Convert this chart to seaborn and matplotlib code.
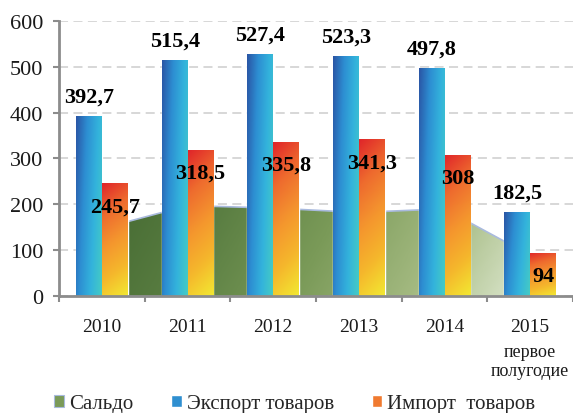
import numpy as np
import pandas as pd
import matplotlib
matplotlib.use("Agg")
import matplotlib.pyplot as plt
import seaborn as sns
from matplotlib.colors import LinearSegmentedColormap
from matplotlib.patches import Patch

# Données (млрд долл.)
years = ["2010", "2011", "2012", "2013", "2014", "2015"]
export_vals = [392.7, 515.4, 527.4, 523.3, 497.8, 182.5]
import_vals = [245.7, 318.5, 335.8, 341.3, 308.0, 94.0]
saldo_vals = [147.0, 196.9, 191.6, 182.0, 189.8, 88.5]
series_names = ["Сальдо", "Экспорт товаров", "Импорт  товаров"]
sub_label_2015 = "первое\nполугодие"

df = pd.DataFrame({
    "year": years * 2,
    "kind": [series_names[1]] * len(years) + [series_names[2]] * len(years),
    "value": export_vals + import_vals,
})

cmap_blue = LinearSegmentedColormap.from_list("b", ["#2a55a5", "#2d8ed2", "#33b3dc", "#45cbc4"])
cmap_orange = LinearSegmentedColormap.from_list("o", ["#e0262a", "#ee6a2e", "#f4952e", "#f5b72c", "#f2e832"])
cmap_green = LinearSegmentedColormap.from_list("g", ["#456a32", "#5a7e42", "#7a9a58", "#a3b980", "#dfe9d2"])

sns.set_style("white")
plt.rcParams["font.family"] = ["Liberation Serif", "DejaVu Serif"]

fig = plt.figure(figsize=(5.73, 4.14), dpi=100)
ax = fig.add_axes([0.103, 0.283, 0.897, 0.664])

sns.barplot(data=df, x="year", y="value", hue="kind", width=0.6,
            palette=["#2f8fd0", "#f07a30"], legend=False, ax=ax, zorder=2)

n = 64
xx, yy = np.meshgrid(np.linspace(0, 1, n), np.linspace(1, 0, n))


def gradient(patch, cmap, t):
    x0, y0 = patch.get_x(), patch.get_y()
    w, h = patch.get_width(), patch.get_height()
    im = ax.imshow(t, cmap=cmap, vmin=0, vmax=1, origin="upper", aspect="auto",
                   extent=(x0, x0 + w, y0, y0 + h), zorder=2.1, interpolation="bilinear")
    im.set_clip_path(patch)


for p in ax.containers[0]:
    gradient(p, cmap_blue, 0.75 * xx + 0.25 * (1 - yy))
for p in ax.containers[1]:
    gradient(p, cmap_orange, 0.85 * (1 - yy) + 0.15 * xx)

# Сальдо : aire derrière les barres
xs = np.arange(len(years))
coll = ax.fill_between(xs, 0, saldo_vals, color="none", zorder=0.8)
gx = np.linspace(0, 1, 128)[None, :] * np.ones((32, 1)) * 0.9 + \
    np.linspace(0, 1, 32)[:, None] * 0.1
im = ax.imshow(gx, cmap=cmap_green, vmin=0, vmax=1, origin="upper", aspect="auto",
               extent=(0, len(years) - 1, 0, max(saldo_vals)), zorder=0.9,
               interpolation="bilinear")
im.set_clip_path(coll.get_paths()[0], coll.get_transform())
ax.plot(xs, saldo_vals, color="#a9bade", lw=1.2, zorder=1)

# Étiquettes
lab = lambda v: f"{v:g}".replace(".", ",")
for p, v in zip(ax.containers[0], export_vals):
    ax.annotate(lab(v), (p.get_x() + p.get_width() / 2, v), xytext=(0, 14),
                textcoords="offset points", ha="center", va="center",
                fontsize=16, fontweight="bold", color="black", zorder=3)
for p, v in zip(ax.containers[1], import_vals):
    ax.annotate(lab(v), (p.get_x() + p.get_width() / 2, v), xytext=(0, -16.5),
                textcoords="offset points", ha="center", va="center",
                fontsize=16, fontweight="bold", color="black", zorder=3)

ax.set_xlim(-0.5, len(years) - 0.5)
ax.set_ylim(0, 600)
ax.set_yticks(range(0, 601, 100))
ax.set_xlabel("")
ax.set_ylabel("")

ax.set_axisbelow(True)
ax.yaxis.grid(True, color="#d4d4d4", ls=(0, (5, 3)), lw=1.3)
for s in ["top", "right"]:
    ax.spines[s].set_visible(False)
for s in ["left", "bottom"]:
    ax.spines[s].set_color("#8c8c8c")
    ax.spines[s].set_linewidth(2)

ax.tick_params(axis="y", length=4.5, width=1.5, color="#8c8c8c", pad=7,
               labelsize=16, labelcolor="#1a1a1a", left=True)
ax.tick_params(axis="x", which="major", length=0, pad=16, labelsize=14, labelcolor="#1a1a1a")
ax.set_xticks(np.arange(-0.5, len(years), 1), minor=True)
ax.tick_params(axis="x", which="minor", length=4, width=1.5, color="#8c8c8c", bottom=True)

ax.annotate(sub_label_2015, (len(years) - 1, 0), xytext=(0, -34), textcoords="offset points",
            ha="center", va="top", fontsize=13, linespacing=1.15, color="#1a1a1a",
            annotation_clip=False)

handles = [Patch(facecolor="#7a9a58", edgecolor="#a9bade", lw=0.8),
           Patch(facecolor="#2f8fd0"), Patch(facecolor="#f07a30")]
fig.legend(handles, series_names, loc="center", bbox_to_anchor=(0.514, 0.022), ncol=3,
           frameon=False, fontsize=15, handlelength=0.5, handleheight=0.5,
           handletextpad=0.25, columnspacing=1.8, borderpad=0)

fig.savefig("out.png", dpi=100, facecolor="white")
